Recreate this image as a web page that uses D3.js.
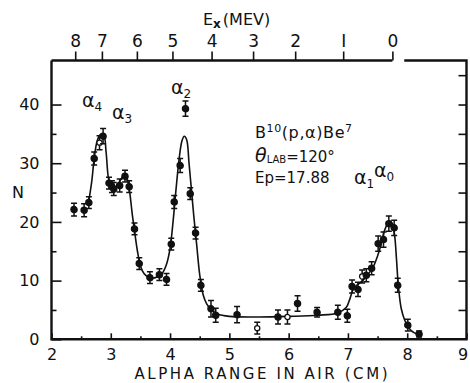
<!DOCTYPE html>
<html>
  <head>
    <title>B10(p,alpha)Be7 alpha spectrum</title>
    <script src="https://cdn.jsdelivr.net/npm/d3@7"></script>
    <style>
      body,
      html {
        margin: 0;
        padding: 0;
        background: white;
      }
      svg text {
        font-family: "DejaVu Sans", sans-serif;
        fill: #111;
      }
    </style>
  </head>
  <body>
    <svg id="svg" width="470" height="383"></svg>
    <script>
      // measured points: alpha range (cm), counts N, half error bar
      const alphaRange = [2.38, 2.55, 2.63, 2.72, 2.81, 2.87, 2.97, 3.02, 3.05, 3.15, 3.24, 3.31,
        3.40, 3.48, 3.66, 3.82, 3.94, 4.02, 4.07, 4.17, 4.26, 4.34, 4.43, 4.52, 4.69, 4.77,
        5.13, 5.47, 5.82, 5.98, 6.15, 6.48, 6.83, 6.99, 7.07, 7.17, 7.24, 7.31, 7.40, 7.51,
        7.60, 7.69, 7.78, 7.84, 8.01, 8.20]
      const counts = [22.1, 22.0, 23.3, 30.8, 33.5, 34.6, 26.6, 26.0, 25.6, 26.2, 27.8, 26.0,
        18.8, 12.9, 10.5, 11.0, 10.2, 16.2, 23.4, 29.6, 39.3, 24.8, 18.1, 9.2, 5.2, 4.1,
        4.2, 1.9, 3.8, 3.8, 6.1, 4.6, 4.6, 4.0, 9.0, 8.5, 10.7, 10.9, 12.1, 16.3,
        17.0, 19.7, 19.0, 9.2, 2.4, 0.9]
      const errors = [1.1, 1.1, 1.0, 1.1, 1.2, 1.3, 1.0, 1.0, 1.1, 1.1, 1.0, 1.0,
        1.0, 1.0, 1.0, 1.0, 1.0, 1.0, 1.1, 1.2, 1.3, 1.0, 1.0, 1.0, 1.4, 1.2,
        1.4, 1.0, 1.2, 1.2, 1.3, 0.8, 1.2, 1.1, 1.1, 1.2, 1.1, 1.1, 1.1, 1.3,
        1.3, 1.3, 1.3, 1.2, 1.0, 0.5]
      // which points are drawn hollow
      const hollow = [4, 27, 29, 36]

      // hand drawn fit through the points
      const fitRange = [2.62, 2.68, 2.72, 2.77, 2.82, 2.88, 2.92, 2.96, 3.00, 3.06, 3.12, 3.18,
        3.23, 3.28, 3.32, 3.36, 3.40, 3.45, 3.50, 3.56, 3.63, 3.70, 3.78, 3.87, 3.94, 4.00,
        4.05, 4.10, 4.15, 4.20, 4.24, 4.28, 4.32, 4.36, 4.40, 4.45, 4.50, 4.56, 4.62, 4.70,
        4.80, 5.00, 5.50, 6.00, 6.50, 6.83, 6.97, 7.03, 7.08, 7.15, 7.25, 7.35, 7.43, 7.50,
        7.56, 7.62, 7.67, 7.71, 7.75, 7.79, 7.82, 7.85, 7.90, 7.96, 8.03, 8.12, 8.22]
      const fitN = [23.0, 27.0, 30.8, 33.8, 34.8, 34.8, 32.0, 27.5, 26.2, 25.8, 26.4, 27.4,
        28.0, 27.2, 25.0, 21.5, 18.5, 15.0, 12.5, 11.2, 10.6, 10.4, 10.6, 11.3, 12.8, 15.5,
        20.0, 25.5, 30.5, 33.8, 34.6, 34.0, 30.0, 25.5, 21.0, 16.0, 11.0, 7.5, 6.0, 5.0,
        4.3, 3.9, 3.8, 3.9, 4.1, 4.5, 5.4, 6.8, 8.3, 9.2, 10.0, 11.2, 12.4, 14.2,
        16.2, 18.6, 19.7, 20.1, 19.7, 17.5, 13.5, 9.2, 5.2, 3.2, 1.9, 1.1, 0.8]

      // axis ticks
      const xTicks = [2, 3, 4, 5, 6, 7, 8, 9]
      const xMinor = [2.5, 3.5, 4.5, 5.5, 6.5, 7.5, 8.5]
      const yTicks = [0, 10, 20, 30, 40]
      const yMinor = [5, 15, 25, 35]
      const yRight = [5, 10, 15, 20, 25, 30, 35, 40, 45]
      // excitation energy (MeV) on top, and the alpha range where each tick sits
      const exTicks = [8, 7, 6, 5, 4, 3, 2, 1, 0]
      const exAtRange = [2.40, 2.85, 3.44, 4.04, 4.70, 5.40, 6.11, 6.92, 7.75]

      const xscale = d3.scaleLinear().domain([2, 9]).range([51.5, 466.5])
      const yscale = d3.scaleLinear().domain([0, 47.5]).range([339.3, 60.5])
      // Ex is not linear in range, so go through the tick positions
      const exScale = d3.scaleLinear().domain(exTicks).range(exAtRange.map(xscale))

      const svg = d3.select('#svg')
      const x0 = xscale(2), x1 = xscale(9)
      const y0 = yscale(0), y1 = yscale(47.5)

      function styleAxis(g, size) {
        g.select('.domain').remove()
        g.selectAll('line').attr('stroke', '#111').attr('stroke-width', 1.6)
        g.selectAll('text')
          .style('font-family', '"DejaVu Sans", sans-serif')
          .style('font-size', size + 'px')
          .attr('fill', '#111')
      }

      // left axis, ticks point inward
      svg.append('g')
        .attr('transform', `translate(${x0},0)`)
        .call(d3.axisLeft(yscale).tickValues(yMinor).tickSizeInner(-5).tickSizeOuter(0).tickFormat(''))
        .call(g => styleAxis(g, 16))
      svg.append('g')
        .attr('transform', `translate(${x0},0)`)
        .call(d3.axisLeft(yscale).tickValues(yTicks).tickSizeInner(-10).tickSizeOuter(0).tickPadding(12))
        .call(g => styleAxis(g, 16))

      // right side ticks
      svg.append('g')
        .attr('transform', `translate(${x1},0)`)
        .call(d3.axisRight(yscale).tickValues(yRight).tickSizeInner(-8).tickSizeOuter(0).tickFormat(''))
        .call(g => styleAxis(g, 16))

      // bottom axis
      svg.append('g')
        .attr('transform', `translate(0,${y0})`)
        .call(d3.axisBottom(xscale).tickValues(xMinor).tickSizeInner(-3).tickSizeOuter(0).tickFormat(''))
        .call(g => styleAxis(g, 16))
      svg.append('g')
        .attr('transform', `translate(0,${y0})`)
        .call(d3.axisBottom(xscale).tickValues(xTicks).tickSizeInner(-6).tickSizeOuter(0).tickPadding(9)
          .tickFormat(d3.format('d')))
        .call(g => styleAxis(g, 16))
        // the 9 sits a bit inside the frame corner
        .call(g => g.selectAll('text').filter(d => d === 9).attr('dx', -4))

      // top axis in Ex
      svg.append('g')
        .attr('transform', `translate(0,${y1})`)
        .call(d3.axisTop(exScale).tickValues(exTicks).tickSize(9).tickPadding(5)
          .tickFormat(d => d === 1 ? 'I' : d))
        .call(g => styleAxis(g, 17))

      // frame, the top line has a gap after Ex = 0
      const frame = svg.append('g')
        .attr('stroke', '#111')
        .attr('stroke-width', 2.4)
        .attr('fill', 'none')
      frame.append('path')
        .attr('d', `M${x0},${y1}V${y0}H${x1}V${y1}H${xscale(7.95)}`)
      frame.append('path')
        .attr('d', `M${x0},${y1}H${exScale(0)}`)

      // axis titles
      svg.append('text')
        .attr('x', 18).attr('y', yscale(25))
        .attr('dy', '0.36em')
        .attr('text-anchor', 'middle')
        .style('font-size', '16px')
        .text('N')
      svg.append('text')
        .attr('x', 261).attr('y', 379)
        .attr('text-anchor', 'middle')
        .style('font-size', '15px')
        .attr('textLength', 253)
        .text('ALPHA RANGE IN AIR (CM)')
      const exTitle = svg.append('text')
        .attr('x', 203).attr('y', 25)
        .style('font-size', '16px')
      exTitle.append('tspan').text('E')
      exTitle.append('tspan').attr('dy', 3).style('font-size', '12px').style('font-weight', 'bold').text('x')
      exTitle.append('tspan').attr('dy', -3).attr('dx', 2).text('(MEV)')

      // fit curve
      const linegen = d3.line()
        .x((d, i) => xscale(fitRange[i]))
        .y(d => yscale(d))
        .curve(d3.curveCatmullRom.alpha(0.5))
      svg.append('path')
        .attr('d', linegen(fitN))
        .attr('stroke', '#111')
        .attr('stroke-width', 1.6)
        .attr('fill', 'none')

      // error bars and points
      const pts = svg.append('g')
        .selectAll('g')
        .data(counts)
        .join('g')
        .attr('transform', (d, i) => `translate(${xscale(alphaRange[i])},0)`)
      pts.append('path')
        .attr('d', (d, i) => {
          const top = yscale(d + errors[i]), bot = yscale(d - errors[i])
          return `M0,${top}V${bot}M-3,${top}H3M-3,${bot}H3`
        })
        .attr('stroke', '#111')
        .attr('stroke-width', 1.5)
        .attr('fill', 'none')
      pts.append('circle')
        .attr('cy', d => yscale(d))
        .attr('r', (d, i) => hollow.includes(i) ? 2.6 : 3.1)
        .attr('fill', (d, i) => hollow.includes(i) ? 'white' : '#111')
        .attr('stroke', '#111')
        .attr('stroke-width', 1.3)

      // peak labels
      function alphaLabel(x, y, sub) {
        const t = svg.append('text').attr('x', x).attr('y', y).style('font-size', '19px')
        t.append('tspan').text('α')
        t.append('tspan').attr('dy', 4).style('font-size', '12px').text(sub)
      }
      alphaLabel(82, 107, '4')
      alphaLabel(112, 119, '3')
      alphaLabel(171, 94, '2')
      alphaLabel(354, 184, '1')
      alphaLabel(374, 177, '0')

      // reaction info
      const l1 = svg.append('text').attr('x', 255).attr('y', 138).style('font-size', '16px')
        .style('letter-spacing', '0.6px')
      l1.append('tspan').text('B')
      l1.append('tspan').attr('dy', -6).style('font-size', '11px').text('10')
      l1.append('tspan').attr('dy', 6).text('(p,α)Be')
      l1.append('tspan').attr('dy', -6).style('font-size', '11px').text('7')

      const l2 = svg.append('text').attr('x', 255).attr('y', 162).style('font-size', '19px')
      l2.append('tspan').style('font-style', 'italic').text('θ')
      l2.append('tspan').attr('dy', 1).style('font-size', '10px').text('LAB')
      l2.append('tspan').attr('dy', -1).style('font-size', '15px').text('=120°')

      svg.append('text').attr('x', 255).attr('y', 183).style('font-size', '15px')
        .text('Ep=17.88')
    </script>
  </body>
</html>
